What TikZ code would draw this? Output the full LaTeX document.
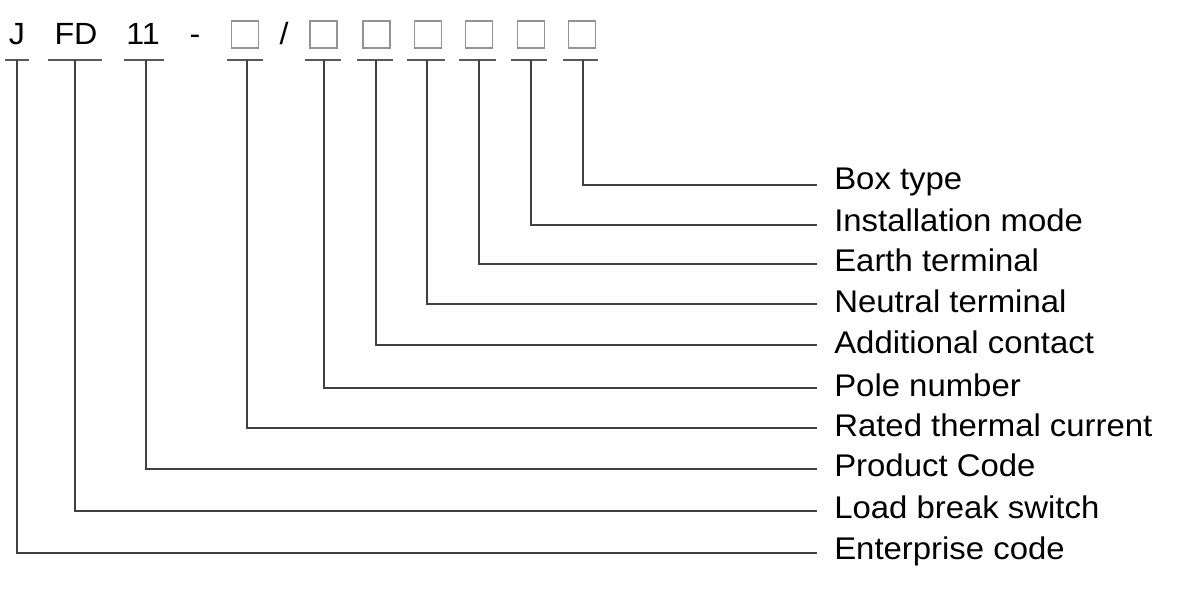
\documentclass[tikz,border=0pt]{standalone}
\usepackage{fontspec}
\setmainfont{Liberation Sans}[FakeStretch=1.05]
\begin{document}
\begin{tikzpicture}[x=0.75pt,y=-0.75pt,
  lbl/.style={anchor=base west,inner sep=0pt,font=\fontsize{23.5}{28}\selectfont},
  code/.style={anchor=base,inner sep=0pt,font=\fontsize{23}{28}\selectfont},
  sq/.style={draw=gray!85,line width=1.1pt,minimum size=20.25pt,inner sep=0pt},
  uline/.style={draw=black!65,line width=1.1pt},
  conn/.style={draw=black!75,line width=0.9pt}]
\useasboundingbox (0,0) rectangle (1200,592);
% top code
\node[code] (tJ) at (17,45) {J};
\node[code] (tFD) at (76,45) {FD};
\node[code] (t11) at (143,45) {11};
\node[code] (tdash) at (195,45) {-};
\node[code] (tslash) at (284,45) {/};
\node[sq] (b1) at (245,34.5) {};
\node[sq] (b2) at (323.5,34.5) {};
\node[sq] (b3) at (376.5,34.5) {};
\node[sq] (b4) at (428,34.5) {};
\node[sq] (b5) at (479,34.5) {};
\node[sq] (b6) at (531,34.5) {};
\node[sq] (b7) at (582,34.5) {};
% underlines
\foreach \n/\a/\b/\c in {J/5/29/17, FD/48/102/75, E/124/164/146, B1/227/263/247, B2/305/341/324, B3/357/393/376, B4/407/445/427, B5/459/496/479, B6/511/547/531, B7/563/598/583}{
  \draw[uline] (\a,60) -- (\b,60);
  \coordinate (u\n) at (\c,60);
}
% labels
\foreach \n/\y/\by/\t in {B7/185/189/Box type, B6/225/231/Installation mode, B5/264/271/Earth terminal, B4/304/312/Neutral terminal, B3/345/353/Additional contact, B2/388/396/Pole number, B1/428/436/Rated thermal current, E/469/476/Product Code, FD/511/518/Load break switch, J/553/559/Enterprise code}{
  \node[lbl] (l\n) at (834,\by) {\t};
  \coordinate (e\n) at (817,\y);
  \draw[conn] (u\n) |- (e\n);
}
\end{tikzpicture}
\end{document}
